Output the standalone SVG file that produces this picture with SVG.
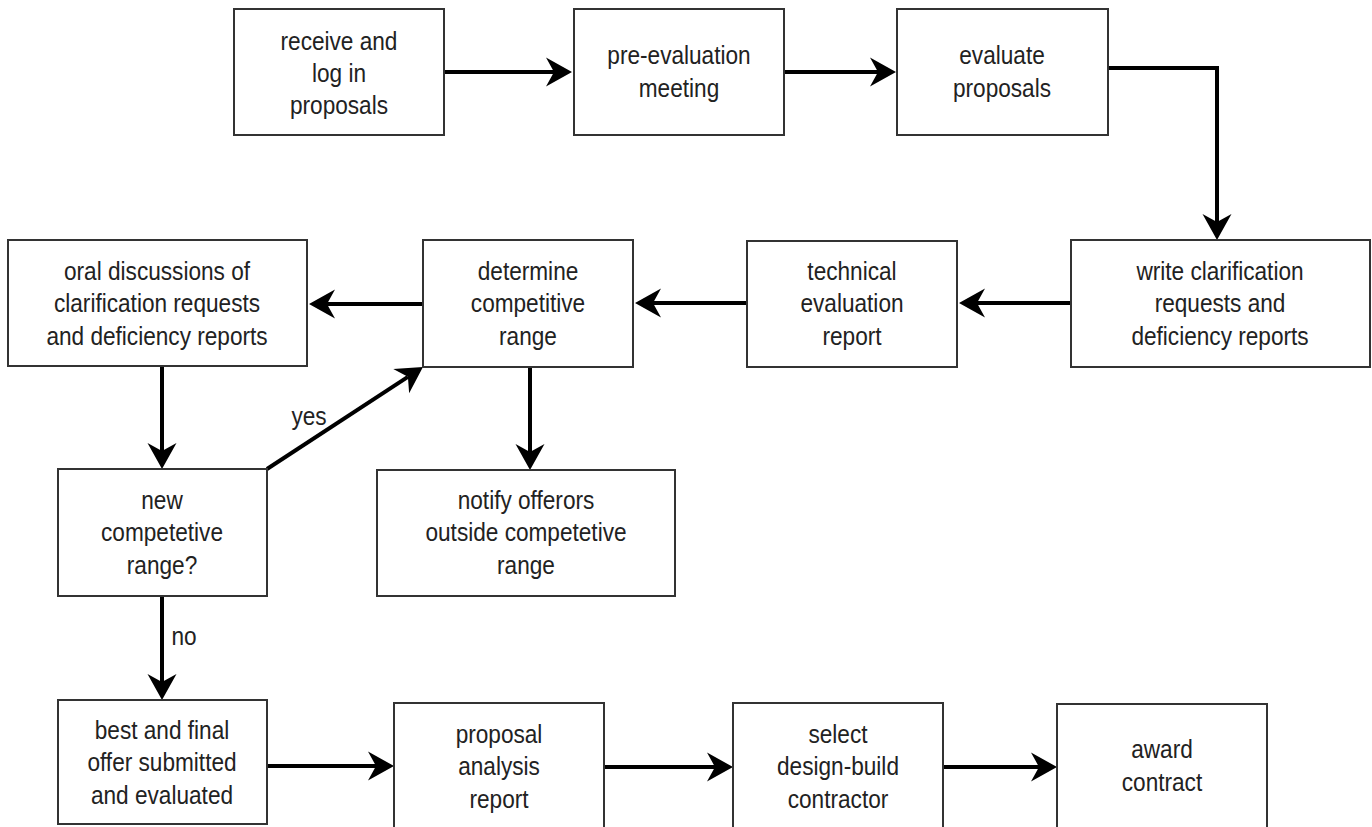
<svg xmlns="http://www.w3.org/2000/svg" width="1372" height="827" viewBox="0 0 1372 827">
  <style>
    .box { fill: #ffffff; stroke: #333333; stroke-width: 2; }
    .lbl { font-family: "Liberation Sans", Arial, sans-serif; font-size: 26px; fill: #222222; text-anchor: middle; }
    .edge { fill: none; stroke: #000000; stroke-width: 4; marker-end: url(#arrow); }
  </style>
  <defs>
    <!-- barbed arrowhead; the line stops at the notch, the tip reaches the box -->
    <marker id="arrow" markerUnits="userSpaceOnUse" viewBox="-27 -15 28 30" markerWidth="28" markerHeight="30" refX="-18" refY="0" orient="auto">
      <path d="M0,0 L-26,-14.5 L-18,0 L-26,14.5 Z" fill="#000000"/>
    </marker>
  </defs>
  <rect width="1372" height="827" fill="#ffffff"/>

  <g id="connectors">
    <path class="edge" d="M444,72 H554"/>
    <path class="edge" d="M784,72 H878"/>
    <path class="edge" d="M1108,68 H1217 V222"/>
    <path class="edge" d="M1071,303 H977"/>
    <path class="edge" d="M747,303 H653"/>
    <path class="edge" d="M423,304 H327"/>
    <path class="edge" d="M162,366 V451"/>
    <path class="edge" d="M267,469 L407.9,376.8"/>
    <path class="edge" d="M530,367 V452"/>
    <path class="edge" d="M162,596 V682"/>
    <path class="edge" d="M267,766 H376"/>
    <path class="edge" d="M604,767 H715"/>
    <path class="edge" d="M943,767 H1039"/>
    <g transform="translate(309 0) scale(0.87 1)"><text class="lbl" x="0" y="425">yes</text></g>
    <g transform="translate(184 0) scale(0.87 1)"><text class="lbl" x="0" y="645">no</text></g>
  </g>

  <!-- node labels are set in a narrowed sans: scaled 0.87 horizontally about the box centre -->
  <g id="receive">
    <rect class="box" x="234" y="9" width="210" height="126"/>
    <g transform="translate(339 0) scale(0.87 1)">
      <text class="lbl" x="0" y="50">receive and</text>
      <text class="lbl" x="0" y="82">log in</text>
      <text class="lbl" x="0" y="114">proposals</text>
    </g>
  </g>
  <g id="pre-evaluation">
    <rect class="box" x="574" y="9" width="210" height="126"/>
    <g transform="translate(679 0) scale(0.87 1)">
      <text class="lbl" x="0" y="64">pre-evaluation</text>
      <text class="lbl" x="0" y="97">meeting</text>
    </g>
  </g>
  <g id="evaluate">
    <rect class="box" x="897" y="9" width="211" height="126"/>
    <g transform="translate(1002 0) scale(0.87 1)">
      <text class="lbl" x="0" y="64">evaluate</text>
      <text class="lbl" x="0" y="97">proposals</text>
    </g>
  </g>
  <g id="write-clarification">
    <rect class="box" x="1071" y="240" width="299" height="127"/>
    <g transform="translate(1220 0) scale(0.87 1)">
      <text class="lbl" x="0" y="280">write clarification</text>
      <text class="lbl" x="0" y="312">requests and</text>
      <text class="lbl" x="0" y="345">deficiency reports</text>
    </g>
  </g>
  <g id="technical">
    <rect class="box" x="747" y="241" width="210" height="126"/>
    <g transform="translate(852 0) scale(0.87 1)">
      <text class="lbl" x="0" y="280">technical</text>
      <text class="lbl" x="0" y="312">evaluation</text>
      <text class="lbl" x="0" y="345">report</text>
    </g>
  </g>
  <g id="determine">
    <rect class="box" x="423" y="240" width="210" height="127"/>
    <g transform="translate(528 0) scale(0.87 1)">
      <text class="lbl" x="0" y="280">determine</text>
      <text class="lbl" x="0" y="312">competitive</text>
      <text class="lbl" x="0" y="345">range</text>
    </g>
  </g>
  <g id="oral-discussions">
    <rect class="box" x="8" y="240" width="299" height="126"/>
    <g transform="translate(157 0) scale(0.87 1)">
      <text class="lbl" x="0" y="280">oral discussions of</text>
      <text class="lbl" x="0" y="312">clarification requests</text>
      <text class="lbl" x="0" y="345">and deficiency reports</text>
    </g>
  </g>
  <g id="new-range">
    <rect class="box" x="58" y="469" width="209" height="127"/>
    <g transform="translate(162 0) scale(0.87 1)">
      <text class="lbl" x="0" y="509">new</text>
      <text class="lbl" x="0" y="541">competetive</text>
      <text class="lbl" x="0" y="574">range?</text>
    </g>
  </g>
  <g id="notify">
    <rect class="box" x="377" y="470" width="298" height="126"/>
    <g transform="translate(526 0) scale(0.87 1)">
      <text class="lbl" x="0" y="509">notify offerors</text>
      <text class="lbl" x="0" y="541">outside competetive</text>
      <text class="lbl" x="0" y="574">range</text>
    </g>
  </g>
  <g id="best-final">
    <rect class="box" x="58" y="700" width="209" height="124"/>
    <g transform="translate(162 0) scale(0.87 1)">
      <text class="lbl" x="0" y="739">best and final</text>
      <text class="lbl" x="0" y="771">offer submitted</text>
      <text class="lbl" x="0" y="804">and evaluated</text>
    </g>
  </g>
  <g id="proposal-analysis">
    <rect class="box" x="394" y="703" width="210" height="127"/>
    <g transform="translate(499 0) scale(0.87 1)">
      <text class="lbl" x="0" y="743">proposal</text>
      <text class="lbl" x="0" y="775">analysis</text>
      <text class="lbl" x="0" y="808">report</text>
    </g>
  </g>
  <g id="select">
    <rect class="box" x="733" y="703" width="210" height="127"/>
    <g transform="translate(838 0) scale(0.87 1)">
      <text class="lbl" x="0" y="743">select</text>
      <text class="lbl" x="0" y="775">design-build</text>
      <text class="lbl" x="0" y="808">contractor</text>
    </g>
  </g>
  <g id="award">
    <rect class="box" x="1057" y="704" width="210" height="127"/>
    <g transform="translate(1162 0) scale(0.87 1)">
      <text class="lbl" x="0" y="758">award</text>
      <text class="lbl" x="0" y="791">contract</text>
    </g>
  </g>
</svg>
